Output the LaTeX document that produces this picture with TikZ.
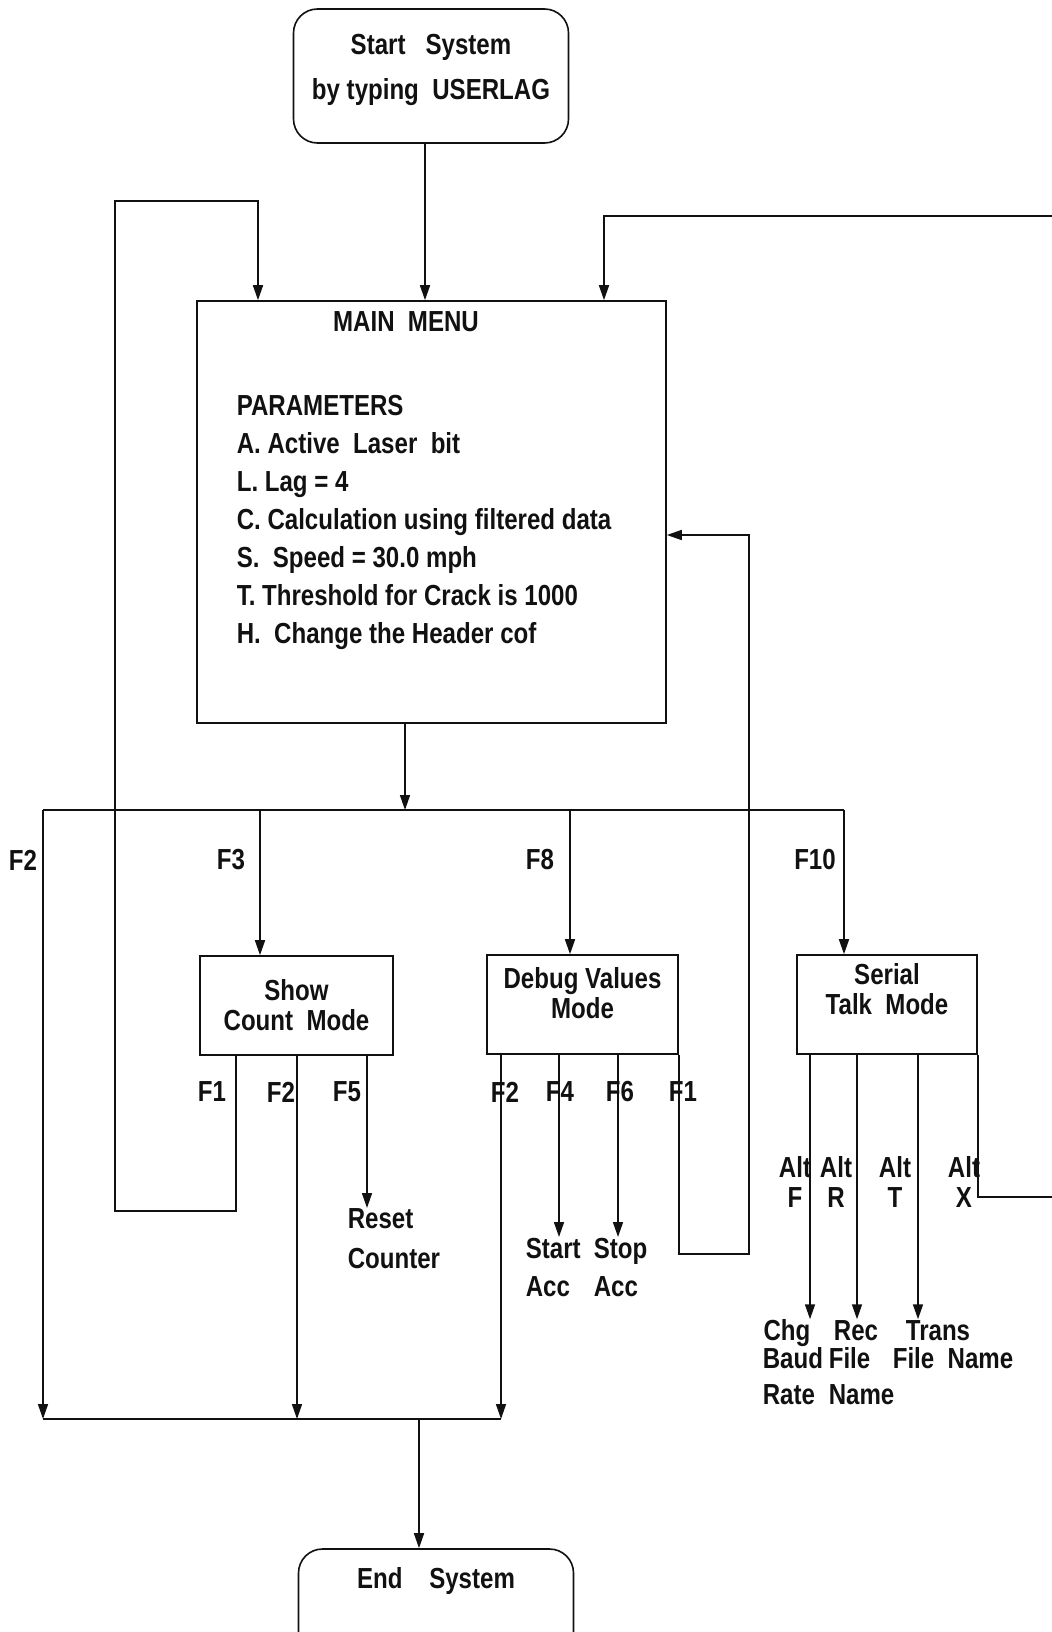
\documentclass[tikz,border=0pt]{standalone}
\usepackage{fontspec}
\newfontfamily\chartfont{Liberation Sans}[FakeStretch=0.83]
\usetikzlibrary{arrows.meta}
\definecolor{ink}{HTML}{111111}

\begin{document}
\begin{tikzpicture}[x=0.5pt,y=-0.5pt,line width=0.8pt,color=ink,
  every node/.style={font=\chartfont\bfseries\fontsize{14.5}{19}\selectfont,inner sep=0pt},
  arr/.style={-{Triangle[length=7.5pt,width=5pt]}},
  terminal/.style={draw,rounded corners=12pt,minimum width=137.5pt,align=center},
  modebox/.style={draw,minimum height=49.5pt,align=center,font=\chartfont\bfseries\fontsize{14.5}{15}\selectfont},
  altkey/.style={align=center,font=\chartfont\bfseries\fontsize{14.5}{15}\selectfont}]
  \useasboundingbox (0,0) rectangle (1052,1632);
  \clip (0,0) rectangle (1052,1632);

  \node[terminal,minimum height=67pt,text depth=9.5pt,font=\chartfont\bfseries\fontsize{14.5}{22.5}\selectfont] (start) at (431,76) {Start~~ System\\by typing~ USERLAG};
  \node[draw,minimum width=234.5pt,minimum height=211pt] (menu) at (431.5,512) {};
  \node (menutitle) at (406,322) {MAIN~ MENU};
  \node[align=left,anchor=north west] (params) at (236,394) {PARAMETERS\\A. Active~ Laser~ bit\\L. Lag = 4\\C. Calculation using filtered data\\S.~ Speed = 30.0 mph\\T. Threshold for Crack is 1000\\H.~ Change the Header cof};

  \node[modebox,minimum width=96.5pt] (showmode) at (296.5,1005.5) {Show\\Count~ Mode};
  \node[modebox,minimum width=95.5pt,text depth=11.5pt] (debugmode) at (582.5,1004.5) {Debug Values\\Mode};
  \node[modebox,minimum width=90pt,text depth=15.5pt] (serialmode) at (887,1004.5) {Serial\\Talk~ Mode};
  \node[terminal,text height=19.5pt,text depth=46pt,anchor=base] (finish) at (436,1588) {End~~~ System};

  \node (keyF2) at (23,860) {F2};
  \node (keyF3) at (231,860) {F3};
  \node (keyF8) at (540,860) {F8};
  \node (keyF10) at (815,860) {F10};
  \node (showF1) at (212,1092) {F1};
  \node (showF2) at (281,1092) {F2};
  \node (showF5) at (347,1092) {F5};
  \node (debugF2) at (505,1092) {F2};
  \node (debugF4) at (560,1092) {F4};
  \node (debugF6) at (620,1092) {F6};
  \node (debugF1) at (683,1092) {F1};
  \node[altkey] (altF) at (795,1182) {Alt\\F};
  \node[altkey] (altR) at (836,1182) {Alt\\R};
  \node[altkey] (altT) at (895,1182) {Alt\\T};
  \node[altkey] (altX) at (964,1182) {Alt\\X};

  \node[align=left,anchor=north west,font=\chartfont\bfseries\fontsize{14.5}{20}\selectfont] (reset) at (347,1208) {Reset\\Counter};
  \node[align=left,anchor=north west] (startacc) at (525,1237) {Start\\Acc};
  \node[align=left,anchor=north west] (stopacc) at (593,1237) {Stop\\Acc};
  \node[anchor=base] (chg) at (787,1340) {Chg};
  \node[anchor=base] (rec) at (856,1340) {Rec};
  \node[anchor=base] (trans) at (938,1340) {Trans};
  \node[align=left,anchor=north west,font=\chartfont\bfseries\fontsize{14.5}{18}\selectfont] (baudrate) at (762,1347) {Baud\\Rate};
  \node[align=left,anchor=north west,font=\chartfont\bfseries\fontsize{14.5}{18}\selectfont] (recname) at (828,1347) {File\\Name};
  \node[anchor=north west] (transname) at (892,1347) {File~ Name};

  \coordinate (fork) at (405,810);
  \coordinate (busL) at (43,810);
  \coordinate (busR) at (844,810);
  \coordinate (joinL) at (43,1419);
  \coordinate (joinR) at (501,1419);
  \coordinate (join) at (419,1419);
  \coordinate (loopL) at (115,1211);
  \coordinate (loopLtop) at (258,201);
  \coordinate (loopR) at (749,1254);
  \coordinate (loopRtop) at (749,535);
  \coordinate (edgeTop) at (1052,216);
  \coordinate (inR) at (604,216);
  \coordinate (edgeX) at (1052,1197);
  \coordinate (tF3) at (260,0);
  \coordinate (tF8) at (570,0);
  \coordinate (sF1) at (236,0);
  \coordinate (sF2) at (297,0);
  \coordinate (sF5) at (367,0);
  \coordinate (dF4) at (559,0);
  \coordinate (dF6) at (618,0);
  \coordinate (aF) at (810,0);
  \coordinate (aR) at (857,0);
  \coordinate (aT) at (918,0);

  \draw[arr] ([xshift=-3pt]start.south) -- ([xshift=-3pt]start.south |- menu.north);
  \draw[arr] (menu.south -| fork) -- (fork);
  \draw (busL) -- (busR);
  \draw[arr] (busL) -- (joinL);
  \draw[arr] (tF3 |- busL) -- (tF3 |- showmode.north);
  \draw[arr] (tF8 |- busL) -- (tF8 |- debugmode.north);
  \draw[arr] (busR) -- (busR |- serialmode.north);
  \draw[arr] (sF1 |- showmode.south) |- (loopL) |- (loopLtop) -- (loopLtop |- menu.north);
  \draw[arr] (sF2 |- showmode.south) -- (sF2 |- joinL);
  \draw[arr] (sF5 |- showmode.south) -- (sF5 |- reset.north);
  \draw[arr] (joinR |- debugmode.south) -- (joinR);
  \draw[arr] (dF4 |- debugmode.south) -- (dF4 |- startacc.north);
  \draw[arr] (dF6 |- debugmode.south) -- (dF6 |- stopacc.north);
  \draw[arr] (debugmode.south east) |- (loopR) -- (loopRtop) -- (loopRtop -| menu.east);
  \draw[arr] (edgeTop) -- (inR) -- (inR |- menu.north);
  \draw[arr] (aF |- serialmode.south) -- (aF |- rec.north);
  \draw[arr] (aR |- serialmode.south) -- (aR |- rec.north);
  \draw[arr] (aT |- serialmode.south) -- (aT |- trans.north);
  \draw (serialmode.south east) |- (edgeX);
  \draw (joinL) -- (joinR);
  \draw[arr] (join) -- (join |- finish.north);
\end{tikzpicture}
\end{document}
